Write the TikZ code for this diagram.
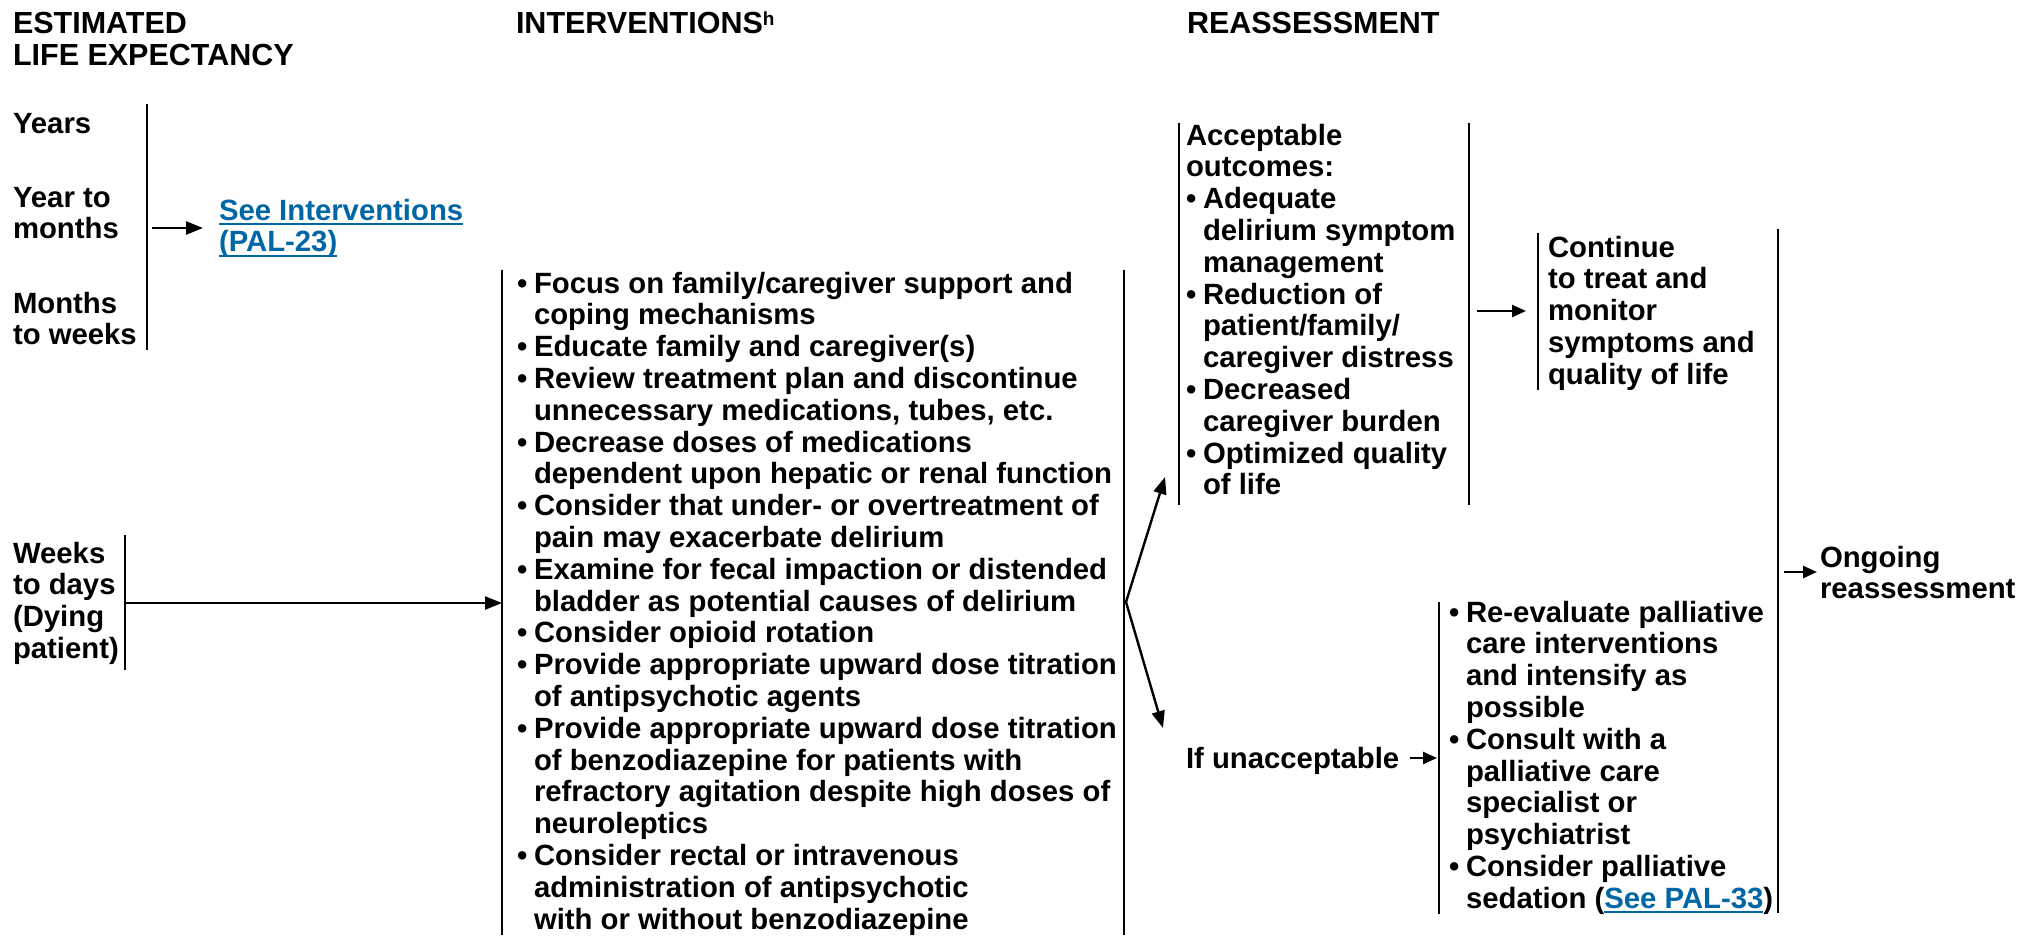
\documentclass[tikz,border=0pt]{standalone}
\usepackage{fontspec}
\setmainfont{Liberation Sans}
\usetikzlibrary{arrows.meta}
\definecolor{linkblue}{RGB}{0,102,166}

% bullet item and continuation indent
\newcommand\bul{\makebox[17pt][l]{\textbullet}}
\newcommand\ind{\hspace*{17pt}}
% underlined cross-reference
\newcommand\ulink[1]{{\color{linkblue}\setbox0=\hbox{#1}\rlap{\rule[-5pt]{\wd0}{2.2pt}}\box0}}
% first-line-aligned block of lines
\newcommand\lines[1]{\begin{tabular}[t]{@{}l@{}}#1\end{tabular}}

\begin{document}
\begin{tikzpicture}[x=1pt,y=-1pt,
  txt/.style={anchor=base west, inner sep=0pt, outer sep=0pt,
              font=\bfseries\fontsize{29.3}{31.8}\selectfont},
  head/.style={txt, font=\bfseries\fontsize{30.5}{32}\selectfont},
  bracket/.style={line width=2.4pt},
  arr/.style={line width=2.4pt, -{Triangle[length=17pt,width=13pt]}},
  sarr/.style={line width=2.4pt, -{Triangle[length=14pt,width=12pt]}}]

\useasboundingbox (0,0) rectangle (2018,935);

% column headings
\node[head] (hEst) at (13,33) {\lines{ESTIMATED\\LIFE EXPECTANCY}};
\node[head] (hInt) at (516,33) {INTERVENTIONS\raisebox{8pt}{\fontsize{19}{19}\selectfont h}};
\node[head] (hRe) at (1187,33) {REASSESSMENT};

% life expectancy categories
\node[txt] (years) at (13,133) {Years};
\node[txt] (ytm) at (13,207) {\lines{Year to\\months}};
\node[txt] (mtw) at (13,313) {\lines{Months\\to weeks}};
\node[txt] (wtd) at (13,563) {\lines{Weeks\\to days\\(Dying\\patient)}};

\coordinate (b1t) at (147,104);
\coordinate (b1b) at (147,350);
\draw[bracket] (b1t) -- (b1b);
\coordinate (b2t) at (125,535);
\coordinate (b2b) at (125,670);
\draw[bracket] (b2t) -- (b2b);

% reference to the other page
\node[txt] (see) at (219,220) {\lines{\ulink{See Interventions}\\\ulink{(PAL-23)}}};
\coordinate (a1s) at (152,228);
\coordinate (a1e) at (203,228);
\draw[arr] (a1s) -- (a1e);

% interventions for the dying patient
\coordinate (ibl) at (502,270);
\coordinate (ibl2) at (502,935);
\coordinate (ibr) at (1124,270);
\coordinate (ibr2) at (1124,935);
\draw[bracket] (ibl) -- (ibl2);
\draw[bracket] (ibr) -- (ibr2);
\node[txt] (interv) at (517,293) {\lines{%
\bul Focus on family/caregiver support and\\
\ind coping mechanisms\\
\bul Educate family and caregiver(s)\\
\bul Review treatment plan and discontinue\\
\ind unnecessary medications, tubes, etc.\\
\bul Decrease doses of medications\\
\ind dependent upon hepatic or renal function\\
\bul Consider that under- or overtreatment of\\
\ind pain may exacerbate delirium\\
\bul Examine for fecal impaction or distended\\
\ind bladder as potential causes of delirium\\
\bul Consider opioid rotation\\
\bul Provide appropriate upward dose titration\\
\ind of antipsychotic agents\\
\bul Provide appropriate upward dose titration\\
\ind of benzodiazepine for patients with\\
\ind refractory agitation despite high doses of\\
\ind neuroleptics\\
\bul Consider rectal or intravenous\\
\ind administration of antipsychotic\\
\ind with or without benzodiazepine}};

\coordinate (a2s) at (125,603);
\coordinate (a2e) at (502,603);
\draw[arr] (a2s) -- (a2e);

% fork to the two outcomes
\coordinate (fork) at (1126,602);
\coordinate (upTip) at (1165,477);
\coordinate (dnTip) at (1163,728);
\draw[arr] (fork) -- (upTip);
\draw[arr] (fork) -- (dnTip);

% acceptable outcomes
\coordinate (acl) at (1179,123);
\coordinate (acl2) at (1179,505);
\coordinate (acr) at (1469,123);
\coordinate (acr2) at (1469,505);
\draw[bracket] (acl) -- (acl2);
\draw[bracket] (acr) -- (acr2);
\node[txt] (accept) at (1186,145) {\lines{%
Acceptable\\
outcomes:\\
\bul Adequate\\
\ind delirium symptom\\
\ind management\\
\bul Reduction of\\
\ind patient/family/\\
\ind caregiver distress\\
\bul Decreased\\
\ind caregiver burden\\
\bul Optimized quality\\
\ind of life}};

\coordinate (a3s) at (1477,311);
\coordinate (a3e) at (1526,311);
\draw[sarr] (a3s) -- (a3e);

% continue treatment
\coordinate (ctl) at (1538,233);
\coordinate (ctl2) at (1538,390);
\draw[bracket] (ctl) -- (ctl2);
\node[txt] (cont) at (1548,257) {\lines{Continue\\to treat and\\monitor\\symptoms and\\quality of life}};

% closing bracket and ongoing reassessment
\coordinate (bigt) at (1778,229);
\coordinate (bigb) at (1778,913);
\draw[bracket] (bigt) -- (bigb);
\coordinate (a4s) at (1784,572);
\coordinate (a4e) at (1817,572);
\draw[sarr] (a4s) -- (a4e);
\node[txt] (ongo) at (1820,567) {\lines{Ongoing\\reassessment}};

% unacceptable outcome
\node[txt] (unacc) at (1186,768) {If unacceptable};
\coordinate (a5s) at (1410,758);
\coordinate (a5e) at (1437,758);
\draw[sarr] (a5s) -- (a5e);
\coordinate (rel) at (1439,602);
\coordinate (rel2) at (1439,914);
\draw[bracket] (rel) -- (rel2);
\node[txt] (reeval) at (1449,622) {\lines{%
\bul Re-evaluate palliative\\
\ind care interventions\\
\ind and intensify as\\
\ind possible\\
\bul Consult with a\\
\ind palliative care\\
\ind specialist or\\
\ind psychiatrist\\
\bul Consider palliative\\
\ind sedation (\ulink{See PAL-33})}};

\end{tikzpicture}
\end{document}
